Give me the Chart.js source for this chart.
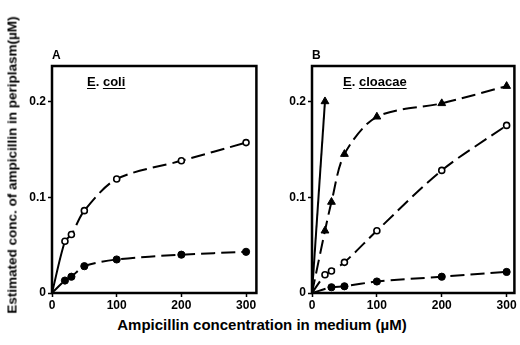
<!DOCTYPE html>
<html>
<head>
<meta charset="utf-8">
<script src="https://cdn.jsdelivr.net/npm/chart.js@4.4.1/dist/chart.umd.min.js"></script>
<style>
  body { margin: 0; background: #fff; width: 520px; height: 345px; position: relative; overflow: hidden; font-family: "Liberation Sans", Arial, sans-serif; }
  .box { position: absolute; }
  .txt { position: absolute; color: #000; font-weight: bold; white-space: nowrap; }
  .ytitle { left: 12px; top: 165px; font-size: 13.5px; transform: translate(-50%, -50%) rotate(-90deg); }
  .xtitle { left: 262px; top: 316px; font-size: 15px; transform: translateX(-50%); }
  .panel { font-size: 12px; }
  .species { font-size: 13px; }
  .species u { text-underline-offset: 2px; }
</style>
</head>
<body>
<div class="box" style="left:0;top:50px;width:262px;height:265px"><canvas id="chartA"></canvas></div>
<div class="box" style="left:262px;top:50px;width:258px;height:265px"><canvas id="chartB"></canvas></div>
<div class="txt ytitle">Estimated conc. of ampicillin in periplasm(µM)</div>
<div class="txt xtitle">Ampicillin concentration in medium (µM)</div>
<div class="txt panel" style="left:52px;top:48px">A</div>
<div class="txt panel" style="left:312px;top:48px">B</div>
<div class="txt species" style="left:87px;top:74px"><u>E</u>. <u>coli</u></div>
<div class="txt species" style="left:343px;top:74px"><u>E</u>. <u>cloacae</u></div>
<script>
// ===============================
// Data
// ===============================
const xConc = [0, 20, 30, 50, 100, 200, 300];
const xTicks = [0, 100, 200, 300];
const yTicks = [0, 0.1, 0.2];

// Panel A - E. coli
const coliOpen   = [0, 0.054, 0.061, 0.086, 0.119, 0.138, 0.157];
const coliFilled = [0, 0.013, 0.017, 0.028, 0.035, 0.040, 0.043];

// Panel B - E. cloacae
const cloacaeTri    = [0, 0.065, 0.095, 0.145, 0.184, 0.198, 0.216];
const cloacaeOpen   = [0, 0.019, 0.023, 0.032, 0.065, 0.128, 0.175];
const cloacaeFilled = [0, null, 0.006, 0.007, 0.012, 0.017, 0.022];
const cloacaeSteepX = [0, 20];
const cloacaeSteepY = [0, 0.2];

const toPoints = (xs, ys) => xs.map((x, i) => ({ x: x, y: ys[i] })).filter(p => p.y !== null);

// ===============================
// Shared helpers
// ===============================
const dash = [14, 6];

function series(xs, ys, style) {
    return {
        data: toPoints(xs, ys),
        borderColor: "#000",
        borderWidth: 2,
        borderDash: dash,
        tension: 0.3,
        pointStyle: style.shape,
        pointRadius: ctx => (ctx.raw && ctx.raw.x === 0) ? 0 : style.r,
        pointBackgroundColor: style.fill,
        pointBorderColor: "#000",
        pointBorderWidth: style.bw,
        segment: style.segment
    };
}

const openC   = { shape: "circle", r: 3, fill: "#fff", bw: 1.6 };
const filledC = { shape: "circle", r: 3.6, fill: "#000", bw: 1 };
const triS    = { shape: "triangle", r: 4.5, fill: "#000", bw: 1 };

const frame = {
    id: "frame",
    afterDraw(chart) {
        const a = chart.chartArea, c = chart.ctx;
        c.save();
        c.strokeStyle = "#000";
        c.lineWidth = 2.5;
        c.strokeRect(a.left, a.top, a.right - a.left, a.bottom - a.top);
        c.restore();
    }
};

function makeOptions(xMax, yWidth, padRight) {
    const tickFont = { family: "Liberation Sans", size: 12, weight: "bold" };
    return {
        responsive: true,
        maintainAspectRatio: false,
        animation: false,
        layout: { padding: { top: 16, right: padRight, left: 0, bottom: 0 } },
        plugins: { legend: { display: false }, tooltip: { enabled: false } },
        scales: {
            x: {
                type: "linear",
                min: 0,
                max: xMax,
                afterBuildTicks: s => { s.ticks = xTicks.map(v => ({ value: v })); },
                afterFit: s => { s.height = 22; },
                grid: { drawOnChartArea: false, tickLength: 4, tickColor: "#000", tickWidth: 1.5 },
                border: { display: false },
                ticks: { color: "#000", font: tickFont, padding: 1, maxRotation: 0 }
            },
            y: {
                min: 0,
                max: 0.237,
                afterBuildTicks: s => { s.ticks = yTicks.map(v => ({ value: v })); },
                afterFit: s => { s.width = yWidth; },
                grid: { drawOnChartArea: false, tickLength: 4, tickColor: "#000", tickWidth: 1.5 },
                border: { display: false },
                ticks: { color: "#000", font: tickFont, padding: 2, callback: v => v === 0 ? "0" : v.toFixed(1) }
            }
        }
    };
}

// ===============================
// Panel A
// ===============================
new Chart(document.getElementById("chartA"), {
    type: "line",
    data: {
        datasets: [
            series(xConc, coliOpen, Object.assign({ segment: { borderDash: c => c.p0DataIndex === 0 ? [] : dash } }, openC)),
            series(xConc, coliFilled, filledC)
        ]
    },
    options: makeOptions(316, 52, 4),
    plugins: [frame]
});

// ===============================
// Panel B
// ===============================
const steep = series(cloacaeSteepX, cloacaeSteepY, triS);
steep.borderDash = [];
steep.tension = 0;
steep.pointRadius = ctx => ctx.dataIndex === 0 ? 0 : 4.5;

new Chart(document.getElementById("chartB"), {
    type: "line",
    data: {
        datasets: [
            steep,
            series(xConc, cloacaeTri, triS),
            series(xConc, cloacaeOpen, openC),
            series(xConc, cloacaeFilled, filledC)
        ]
    },
    options: makeOptions(312, 50, 3),
    plugins: [frame]
});
</script>
</body>
</html>
